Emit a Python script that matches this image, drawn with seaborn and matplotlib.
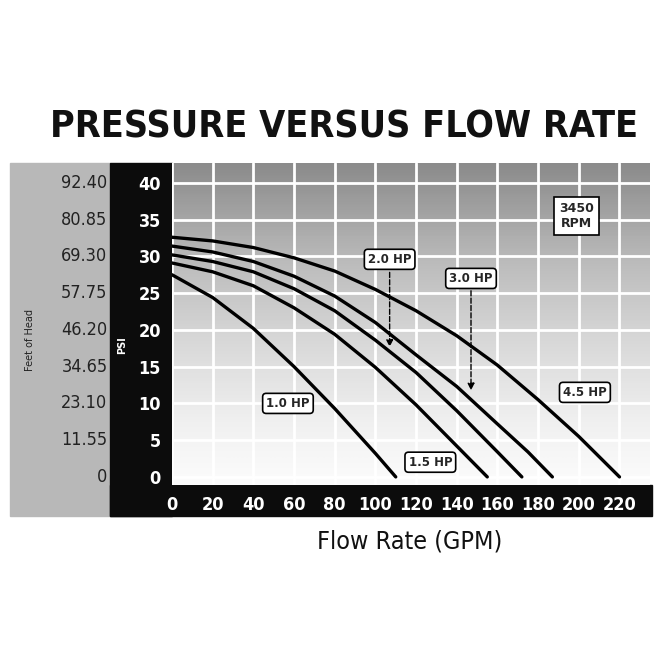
import matplotlib
matplotlib.use("Agg")
import matplotlib.pyplot as plt
import matplotlib.transforms as mtrans
from matplotlib.patches import Rectangle
import seaborn as sns
import numpy as np
import pandas as pd

## curve data (GPM, PSI)
hp_45_gpm = [0, 20, 40, 60, 80, 100, 120, 140, 160, 180, 200, 220]
hp_45_psi = [32.6, 32.1, 31.2, 29.8, 28.0, 25.5, 22.6, 19.2, 15.2, 10.5, 5.5, 0]
hp_30_gpm = [0, 20, 40, 60, 80, 100, 120, 140, 160, 175, 187]
hp_30_psi = [31.4, 30.6, 29.3, 27.3, 24.6, 21.0, 16.6, 12.3, 7.2, 3.4, 0]
hp_20_gpm = [0, 20, 40, 60, 80, 100, 120, 140, 160, 172]
hp_20_psi = [30.2, 29.3, 27.9, 25.6, 22.6, 18.6, 14.2, 9.0, 3.4, 0]
hp_15_gpm = [0, 20, 40, 60, 80, 100, 120, 140, 155]
hp_15_psi = [29.1, 27.9, 26.0, 23.0, 19.4, 14.9, 9.8, 4.2, 0]
hp_10_gpm = [0, 20, 40, 60, 80, 100, 110]
hp_10_psi = [27.5, 24.4, 20.2, 15.0, 9.3, 3.2, 0]

psi_ticks = [0, 5, 10, 15, 20, 25, 30, 35, 40]
feet_labels = ["0", "11.55", "23.10", "34.65", "46.20", "57.75", "69.30", "80.85", "92.40"]
gpm_ticks = [0, 20, 40, 60, 80, 100, 120, 140, 160, 180, 200, 220]

frames = []
for name, g, p in [("4.5", hp_45_gpm, hp_45_psi), ("3.0", hp_30_gpm, hp_30_psi),
                   ("2.0", hp_20_gpm, hp_20_psi), ("1.5", hp_15_gpm, hp_15_psi),
                   ("1.0", hp_10_gpm, hp_10_psi)]:
    frames.append(pd.DataFrame({"gpm": g, "psi": p, "hp": name}))
df = pd.concat(frames)

sns.set_style("white")
plt.rcParams['font.family'] = ['DejaVu Sans']

fig = plt.figure(figsize=(6.6, 6.6), dpi=100)
W = H = 660.0

## gray panel and black bands (pixel coords -> figure coords)
def frect(x0, y0, x1, y1, color):
    fig.patches.append(Rectangle((x0 / W, 1 - y1 / H), (x1 - x0) / W, (y1 - y0) / H,
                                 transform=fig.transFigure, color=color, zorder=-5))
frect(10, 163, 110, 516, "#b8b8b8")
frect(110, 163, 172, 516, "#0c0c0c")
frect(110, 485, 652, 516, "#0c0c0c")

ax = fig.add_axes([172 / W, 1 - 485 / H, 478 / W, (485 - 163) / H])
ax.set_xlim(0, 235)
ax.set_ylim(-1.1, 42.7)

## gradient background
grad = np.linspace(0, 1, 256).reshape(-1, 1)
ax.imshow(grad, extent=[0, 235, -1.1, 42.7], aspect="auto", cmap="Greys",
          vmin=-0.05, vmax=1.9, origin="lower", zorder=0)
for x in gpm_ticks + [240]:
    ax.axvline(x, color="white", lw=2, zorder=1)
for y in psi_ticks:
    ax.axhline(y, color="white", lw=2, zorder=1)

sns.lineplot(data=df, x="gpm", y="psi", units="hp", estimator=None, color="black",
             lw=2.4, sort=False, ax=ax, zorder=3)

box = dict(boxstyle="round,pad=0.3", fc="white", ec="black", lw=1.2)
ax.text(107, 29.6, "2.0 HP", ha="center", va="center", fontsize=8.5, weight="bold", bbox=box, zorder=5)
ax.text(147, 27.0, "3.0 HP", ha="center", va="center", fontsize=8.5, weight="bold", bbox=box, zorder=5)
ax.text(203, 11.5, "4.5 HP", ha="center", va="center", fontsize=8.5, weight="bold", bbox=box, zorder=5)
ax.text(57, 10.0, "1.0 HP", ha="center", va="center", fontsize=8.5, weight="bold", bbox=box, zorder=5)
ax.text(127, 2.0, "1.5 HP", ha="center", va="center", fontsize=8.5, weight="bold", bbox=box, zorder=5)
ax.text(199, 35.5, "3450\nRPM", ha="center", va="center", fontsize=9, weight="bold",
        bbox=dict(boxstyle="square,pad=0.4", fc="white", ec="black", lw=1.2), zorder=5)
ax.annotate("", xy=(107, 17.3), xytext=(107, 28.2),
            arrowprops=dict(arrowstyle="-|>", ls="--", color="black", lw=1), zorder=4)
ax.annotate("", xy=(147, 11.4), xytext=(147, 25.7),
            arrowprops=dict(arrowstyle="-|>", ls="--", color="black", lw=1), zorder=4)

ax.set_xticks(gpm_ticks)
ax.set_yticks(psi_ticks)
ax.tick_params(length=0, labelcolor="white", labelsize=13, pad=8)
for lab in ax.get_xticklabels() + ax.get_yticklabels():
    lab.set_fontweight("bold")
    lab.set_fontstretch("condensed")
ax.set_xlabel("")
ax.set_ylabel("")
for s in ax.spines.values():
    s.set_visible(False)

tr = mtrans.blended_transform_factory(ax.transAxes, ax.transData)
for v, lab in zip(psi_ticks, feet_labels):
    ax.text(-0.135, v, lab, transform=tr, ha="right", va="center", fontsize=13,
            color="#222222", clip_on=False, fontstretch="condensed")
fig.text(30 / W, 1 - 340 / H, "Feet of Head", rotation=90, ha="center", va="center",
         fontsize=7, color="#222222")
fig.text(122 / W, 1 - 345 / H, "PSI", rotation=90, ha="center", va="center",
         fontsize=7, color="white", weight="bold")

fig.text(344 / W, 1 - 128 / H, "PRESSURE VERSUS FLOW RATE", ha="center", va="center",
         fontsize=27, weight="bold", color="#111111", fontstretch="condensed")
fig.text(410 / W, 1 - 541 / H, "Flow Rate (GPM)", ha="center", va="center",
         fontsize=18, color="#111111", fontstretch="condensed")

fig.savefig("out.png", dpi=100, facecolor="white")
